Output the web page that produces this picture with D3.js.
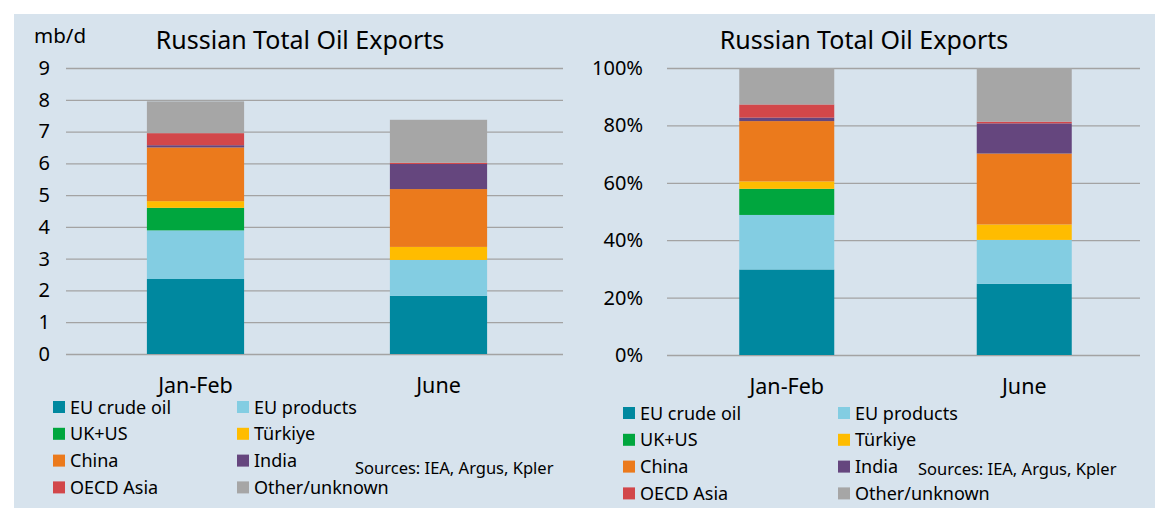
<!DOCTYPE html>
<html>
<head>
<meta charset="utf-8">
<script src="https://cdn.jsdelivr.net/npm/d3@7"></script>
<style>
    body { margin: 0; background: #ffffff; }
    svg text { font-family: "Noto Sans", "Open Sans", sans-serif; fill: #000; }
</style>
</head>
<body>
<svg id="chart" width="1170" height="520"></svg>
<script>
// categories and series
const categories = ["Jan-Feb", "June"];
const seriesNames = ["EU crude oil", "EU products", "UK+US", "Türkiye", "China", "India", "OECD Asia", "Other/unknown"];
const seriesColors = ["#00889f", "#83cde2", "#00a63e", "#ffbc00", "#eb7a1c", "#65467e", "#d2474a", "#a6a6a6"];

// mb/d
const janFebMbd = [2.36, 1.53, 0.71, 0.21, 1.69, 0.07, 0.38, 1.00];
const juneMbd   = [1.83, 1.13, 0.00, 0.41, 1.82, 0.79, 0.04, 1.35];

// shares in %
const janFebPct = [29.8, 19.0, 9.1, 2.6, 21.0, 1.2, 4.6, 12.7];
const junePct   = [24.8, 15.3, 0.0, 5.4, 24.7, 10.5, 0.6, 18.7];

// tick labels
const mbdTicks = [0, 1, 2, 3, 4, 5, 6, 7, 8, 9];
const pctTicks = [0, 20, 40, 60, 80, 100];

const titleText = "Russian Total Oil Exports";
const sourceText = "Sources: IEA, Argus, Kpler";

const svg = d3.select("#chart");

// shared light blue background behind both panels
svg.append("rect")
    .attr("x", 14).attr("y", 14)
    .attr("width", 1141).attr("height", 494)
    .attr("fill", "#d7e3ed");

function drawPanel(cfg) {
    const rows = categories.map((c, i) => {
        const row = { cat: c };
        seriesNames.forEach((s, j) => row[s] = cfg.values[i][j]);
        return row;
    });
    const stacked = d3.stack().keys(seriesNames)(rows);

    // bars sit in their own band range, gridlines span x0..x1
    const x = d3.scaleBand()
        .domain(categories)
        .range(cfg.barRange)
        .paddingInner(cfg.pad)
        .paddingOuter(cfg.pad / 2);

    const y = d3.scaleLinear()
        .domain(cfg.domain)
        .range([cfg.yBottom, cfg.yTop]);

    const g = svg.append("g");

    // gridlines + y labels
    const yAxis = g.append("g")
        .attr("transform", `translate(${cfg.x0},0)`)
        .call(d3.axisLeft(y)
            .tickValues(cfg.ticks)
            .tickSize(-(cfg.x1 - cfg.x0))
            .tickPadding(cfg.tickPad)
            .tickFormat(cfg.fmt));
    yAxis.select(".domain").remove();
    yAxis.selectAll("line").attr("stroke", "#a3a3a3").attr("stroke-width", 1.3);
    yAxis.selectAll("text")
        .attr("font-size", 20)
        .attr("font-family", "'Noto Sans', sans-serif")
        .attr("fill", "#000");

    // stacked bars
    g.selectAll(".layer")
        .data(stacked)
        .enter().append("g")
        .attr("class", "layer")
        .attr("fill", (d, i) => seriesColors[i])
        .selectAll("rect")
        .data(d => d)
        .enter().append("rect")
        .attr("x", d => x(d.data.cat))
        .attr("width", x.bandwidth())
        .attr("y", d => y(d[1]))
        .attr("height", d => y(d[0]) - y(d[1]));

    // category labels
    const xAxis = g.append("g")
        .attr("transform", `translate(0,${cfg.yBottom})`)
        .call(d3.axisBottom(x).tickSize(0).tickPadding(24));
    xAxis.select(".domain").remove();
    xAxis.selectAll("text")
        .attr("font-size", 21.5)
        .attr("font-family", "'Noto Sans', sans-serif")
        .attr("fill", "#000");

    // title
    g.append("text")
        .attr("x", cfg.titleX).attr("y", 49)
        .attr("text-anchor", "middle")
        .attr("font-size", 25)
        .text(titleText);

    if (cfg.unit) {
        g.append("text")
            .attr("x", 34).attr("y", 43)
            .attr("font-size", 20.5)
            .text(cfg.unit);
    }

    // legend, two columns
    const leg = g.selectAll(".leg")
        .data(seriesNames)
        .enter().append("g")
        .attr("class", "leg")
        .attr("transform", (d, i) =>
            `translate(${i % 2 === 0 ? cfg.legX[0] : cfg.legX[1]},${cfg.legY + Math.floor(i / 2) * 26.8})`);
    leg.append("rect")
        .attr("x", 0).attr("y", -6)
        .attr("width", 12).attr("height", 12)
        .attr("fill", (d, i) => seriesColors[i]);
    leg.append("text")
        .attr("x", 17).attr("y", 6.5)
        .attr("font-size", 18)
        .text(d => d);

    g.append("text")
        .attr("x", cfg.srcX).attr("y", cfg.srcY)
        .attr("font-size", 16.5)
        .text(sourceText);
}

drawPanel({
    values: [janFebMbd, juneMbd],
    domain: [0, 9],
    ticks: mbdTicks,
    fmt: d => d,
    x0: 66, x1: 563,
    barRange: [74, 560],
    yBottom: 354, yTop: 68,
    pad: 0.6,
    tickPad: 16,
    titleX: 300,
    unit: "mb/d",
    legX: [53, 237],
    legY: 407,
    srcX: 355, srcY: 474
});

drawPanel({
    values: [janFebPct, junePct],
    domain: [0, 100],
    ticks: pctTicks,
    fmt: d => d + "%",
    x0: 667, x1: 1140,
    barRange: [668, 1143],
    yBottom: 355, yTop: 68,
    pad: 0.6,
    tickPad: 24,
    titleX: 864,
    unit: null,
    legX: [623, 838],
    legY: 413,
    srcX: 918, srcY: 475
});
</script>
</body>
</html>
